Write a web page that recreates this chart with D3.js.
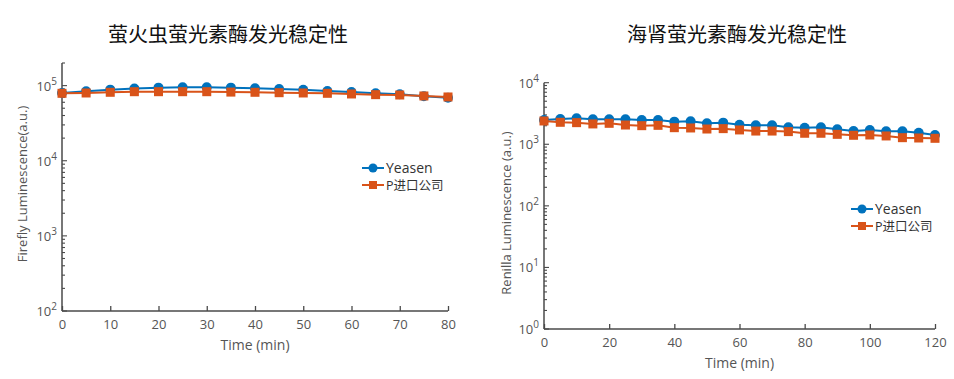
<!DOCTYPE html>
<html><head><meta charset="utf-8">
<script src="https://cdn.jsdelivr.net/npm/d3@7"></script>
<style>
body{margin:0;background:#fff;}
text{font-family:"Open Sans","Noto Sans CJK SC",sans-serif;}
</style></head>
<body>
<svg id="chart" width="954" height="379"></svg>
<script>
const seriesNames = ["Yeasen", "P进口公司"];
const colors = ["#0072BD", "#D95319"];

const fireflyTime = [0,5,10,15,20,25,30,35,40,45,50,55,60,65,70,75,80];
const fireflyYeasen = [79800,83900,88400,91200,94000,95000,95000,94000,92000,90000,88000,85000,82000,79000,76600,72000,69000];
const fireflyP = [79000,79800,81500,83000,83000,83000,83000,82000,81500,80500,79800,79000,77400,75800,75000,72800,70600];

const renillaTime = [0,5,10,15,20,25,30,35,40,45,50,55,60,65,70,75,80,85,90,95,100,105,110,115,120];
const renillaYeasen = [2480,2575,2640,2540,2540,2540,2480,2480,2330,2355,2190,2245,2080,2030,2030,1890,1860,1890,1750,1640,1710,1625,1625,1540,1415];
const renillaP = [2390,2275,2245,2140,2190,2055,2005,2030,1860,1840,1770,1795,1710,1640,1640,1605,1510,1510,1450,1400,1415,1365,1280,1265,1250];

const fireflyXTicks = [0,10,20,30,40,50,60,70,80];
const renillaXTicks = [0,20,40,60,80,100,120];
const fireflyYTicks = [2,3,4,5];
const renillaYTicks = [0,1,2,3,4];

const svg = d3.select("#chart");

function panel(cfg){
  const g = svg.append("g");
  const x = d3.scaleLinear().domain(cfg.xDomain).range([cfg.left, cfg.right]);
  const y = d3.scaleLog().domain(cfg.yDomain).range([cfg.bottom, cfg.top]);
  const axisColor = "#4a4a4a";
  const labelColor = "#555";

  g.append("text").attr("x", cfg.titleX).attr("y", 42).attr("text-anchor","middle")
    .style("font-family","'Noto Sans CJK SC',sans-serif").style("font-size","20px")
    .style("font-weight","400").attr("fill","#111").text(cfg.title);

  const xa = g.append("g").attr("transform",`translate(0,${cfg.bottom})`)
    .call(d3.axisBottom(x).tickValues(cfg.xTicks).tickSize(-5).tickPadding(9).tickFormat(d3.format("d")));
  xa.select(".domain").attr("stroke",axisColor).attr("stroke-width",1.5).attr("d",`M${cfg.left},0H${cfg.right}`);
  xa.selectAll(".tick line").attr("stroke",axisColor).attr("stroke-width",1.3);
  xa.selectAll(".tick text").attr("fill",labelColor).style("font-size","13px").style("font-family","'Open Sans',sans-serif");

  g.append("line").attr("x1",cfg.left).attr("x2",cfg.left).attr("y1",cfg.top).attr("y2",cfg.bottom)
    .attr("stroke",axisColor).attr("stroke-width",1.5);
  const lo = Math.log10(cfg.yDomain[0]), hi = Math.log10(cfg.yDomain[1]);
  for(let e=Math.floor(lo); e<=Math.ceil(hi); e++){
    for(let m=1;m<10;m++){
      const v = m*Math.pow(10,e);
      if(v<cfg.yDomain[0]-1e-9 || v>cfg.yDomain[1]+1e-9) continue;
      g.append("line").attr("x1",cfg.left).attr("x2",cfg.left+(m===1?5:3))
        .attr("y1",y(v)).attr("y2",y(v)).attr("stroke",axisColor).attr("stroke-width",1.1);
    }
  }
  cfg.yTicks.forEach(e=>{
    const t = g.append("text").attr("x",cfg.left-5).attr("y",y(Math.pow(10,e))+5)
      .attr("text-anchor","end").attr("fill",labelColor).style("font-size","13px");
    t.append("tspan").text("10");
    t.append("tspan").attr("dy",-6).style("font-size","10px").text(e);
  });

  g.append("text").attr("x",(cfg.left+cfg.right)/2).attr("y",cfg.bottom+39).attr("text-anchor","middle")
    .attr("fill",labelColor).style("font-size","14px").text("Time (min)");
  g.append("text").attr("transform",`translate(${cfg.yLabelX},${cfg.yLabelY}) rotate(-90)`)
    .attr("text-anchor","middle").attr("fill",labelColor).style("font-size","13px").text(cfg.yLabel);

  const line = d3.line().x(d=>x(d[0])).y(d=>y(d[1]));
  cfg.series.forEach((vals,i)=>{
    const data = cfg.time.map((t,k)=>[t,vals[k]]);
    g.append("path").datum(data).attr("d",line).attr("fill","none").attr("stroke",colors[i]).attr("stroke-width",2);
    if(i===0){
      g.selectAll(null).data(data).enter().append("circle")
        .attr("cx",d=>x(d[0])).attr("cy",d=>y(d[1])).attr("r",5).attr("fill",colors[i]);
    } else {
      g.selectAll(null).data(data).enter().append("rect")
        .attr("x",d=>x(d[0])-4.5).attr("y",d=>y(d[1])-4.5).attr("width",9).attr("height",9).attr("fill",colors[i]);
    }
  });

  seriesNames.forEach((name,i)=>{
    const ly = cfg.legY + i*17;
    g.append("line").attr("x1",cfg.legX).attr("x2",cfg.legX+22).attr("y1",ly).attr("y2",ly)
      .attr("stroke",colors[i]).attr("stroke-width",2);
    if(i===0) g.append("circle").attr("cx",cfg.legX+11).attr("cy",ly).attr("r",4.5).attr("fill",colors[i]);
    else g.append("rect").attr("x",cfg.legX+7).attr("y",ly-4).attr("width",8).attr("height",8).attr("fill",colors[i]);
    g.append("text").attr("x",cfg.legX+24).attr("y",ly+5).attr("fill","#333")
      .style("font-size", i===0?"14px":"12.5px")
      .style("font-family", i===0?"'Open Sans',sans-serif":"'Open Sans','Noto Sans CJK SC',sans-serif")
      .text(name);
  });
}

panel({
  title:"萤火虫萤光素酶发光稳定性", titleX:228,
  left:62, right:448, top:63, bottom:311,
  xDomain:[0,80], yDomain:[100,2e5],
  xTicks:fireflyXTicks, yTicks:fireflyYTicks,
  time:fireflyTime, series:[fireflyYeasen,fireflyP],
  yLabel:"Firefly Luminescence(a.u.)", yLabelX:27, yLabelY:184,
  legX:362, legY:168
});
panel({
  title:"海肾萤光素酶发光稳定性", titleX:737,
  left:544, right:935, top:82.7, bottom:329,
  xDomain:[0,120], yDomain:[1,1e4],
  xTicks:renillaXTicks, yTicks:renillaYTicks,
  time:renillaTime, series:[renillaYeasen,renillaP],
  yLabel:"Renilla Luminescence (a.u.)", yLabelX:511, yLabelY:213,
  legX:851, legY:209
});
</script>
</body></html>
